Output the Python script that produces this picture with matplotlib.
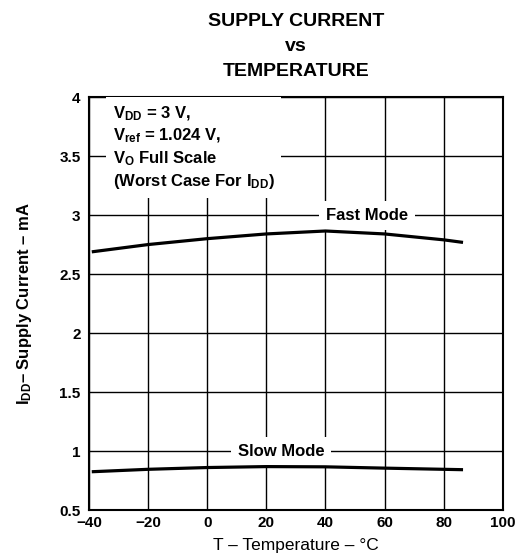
import matplotlib
matplotlib.use('Agg')
import matplotlib.pyplot as plt
import numpy as np

plt.rcParams['font.family'] = ['Liberation Sans', 'DejaVu Sans']
plt.rcParams['mathtext.fontset'] = 'custom'
plt.rcParams['mathtext.rm'] = 'Liberation Sans:bold'
plt.rcParams['mathtext.it'] = 'Liberation Sans:bold'
plt.rcParams['mathtext.bf'] = 'Liberation Sans:bold'

# data
temp = [-38.5, -20, 0, 20, 40, 60, 80, 86]
fast_ma = [2.69, 2.75, 2.80, 2.84, 2.865, 2.84, 2.79, 2.77]
slow_ma = [0.825, 0.845, 0.86, 0.868, 0.866, 0.855, 0.845, 0.842]

xticks = [-40, -20, 0, 20, 40, 60, 80, 100]
yticks = [0.5, 1, 1.5, 2, 2.5, 3, 3.5, 4]
ytick_labels = ['0.5', '1', '1.5', '2', '2.5', '3', '3.5', '4']
xtick_labels = ['\u221240', '\u221220', '0', '20', '40', '60', '80', '100']

fig = plt.figure(figsize=(5.2, 5.58), dpi=100)
ax = fig.add_axes([0.171, 0.086, 0.796, 0.740])

ax.set_xlim(-40, 100)
ax.set_ylim(0.5, 4)
ax.set_xticks(xticks)
ax.set_xticklabels(xtick_labels)
ax.set_yticks(yticks)
ax.set_yticklabels(ytick_labels)
ax.tick_params(length=0, labelsize=11)
ax.tick_params(axis='x', pad=4)
ax.tick_params(axis='y', pad=6)
for lab in ax.get_xticklabels() + ax.get_yticklabels():
    lab.set_fontweight('bold')
ax.grid(True, color='black', lw=1.0, zorder=1)
ax.set_axisbelow(True)
for s in ax.spines.values():
    s.set_linewidth(1.5)

ax.plot(temp, fast_ma, color='black', lw=2.3, zorder=5)
ax.plot(temp, slow_ma, color='black', lw=2.3, zorder=5)

# annotation block
note = ('V$_{\\rm DD}$ = 3 V,\n'
        'V$_{\\rm ref}$ = 1.024 V,\n'
        'V$_{\\rm O}$ Full Scale\n'
        '(Worst Case For I$_{\\rm DD}$)')
ax.text(-32, 3.94, note, fontsize=12, fontweight='bold', va='top', ha='left',
        linespacing=1.3, zorder=4,
        bbox=dict(facecolor='white', edgecolor='none', pad=5))
ax.text(54, 3.0, 'Fast Mode', fontsize=12, fontweight='bold', ha='center', va='center',
        zorder=4, bbox=dict(facecolor='white', edgecolor='none', pad=5))
ax.text(25, 1.0, 'Slow Mode', fontsize=12, fontweight='bold', ha='center', va='center',
        zorder=4, bbox=dict(facecolor='white', edgecolor='none', pad=5))

ax.set_xlabel('T \u2013 Temperature \u2013 \u00b0C', fontsize=12.5, labelpad=6)
ax.set_ylabel('I$_{\\rm DD}$\u2013 Supply Current \u2013 mA', fontsize=12,
              fontweight='bold', labelpad=18)

for i, line in enumerate(['SUPPLY CURRENT', 'vs', 'TEMPERATURE']):
    fig.text(0.569, 0.962 - i * 0.045, line, fontsize=14, fontweight='bold',
             ha='center', va='center')

fig.savefig('out.png', dpi=100)
